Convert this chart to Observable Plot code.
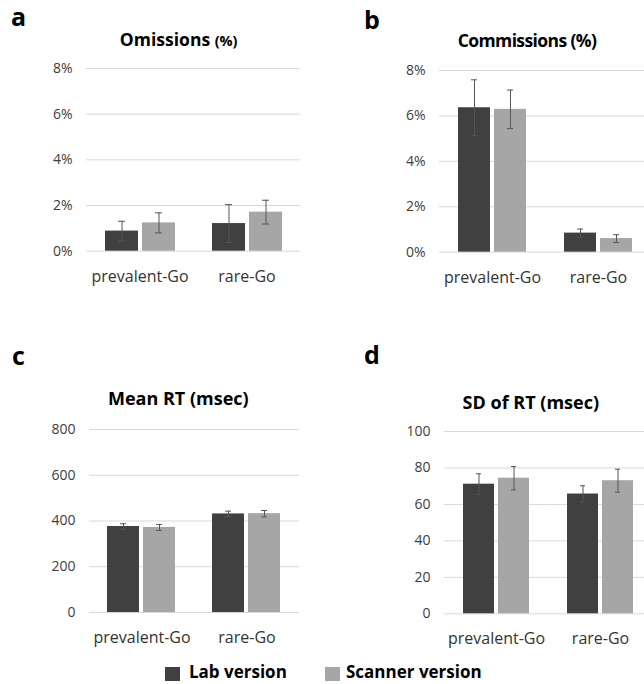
<!DOCTYPE html>
<html>
<head>
<meta charset="utf-8">
<script src="https://cdn.jsdelivr.net/npm/d3@7"></script>
<script src="https://cdn.jsdelivr.net/npm/@observablehq/plot@0.6"></script>
<style>
  html, body { margin: 0; padding: 0; background: #fff; }
  #root { position: relative; width: 644px; height: 684px; overflow: hidden; font-family: "Open Sans", sans-serif; }
  .panel { position: absolute; }
  .panel svg { max-width: none !important; }
  .letter { position: absolute; font-weight: bold; font-size: 25px; color: #000; line-height: 1; }
  .title { position: absolute; font-weight: bold; font-size: 17.5px; color: #000; transform: translate(-50%, -50%); white-space: nowrap; }
  .legend { position: absolute; top: 662px; left: 0; width: 644px; height: 21px; }
  .sw { position: absolute; width: 15px; height: 14px; top: 5px; }
  .lt { position: absolute; font-weight: bold; font-size: 17px; line-height: 20px; top: 0; white-space: nowrap; color: #000; }
</style>
</head>
<body>
<div id="root"></div>
<script>
const categories = ["prevalent-Go", "rare-Go"];
const versions = ["Lab version", "Scanner version"];

const omissionsLab = [0.88, 1.21];
const omissionsLabErr = [0.43, 0.83];
const omissionsScanner = [1.24, 1.71];
const omissionsScannerErr = [0.44, 0.52];

const commissionsLab = [6.36, 0.84];
const commissionsLabErr = [1.23, 0.18];
const commissionsScanner = [6.29, 0.60];
const commissionsScannerErr = [0.85, 0.17];

const meanRTLab = [376, 431];
const meanRTLabErr = [12, 12];
const meanRTScanner = [372, 432];
const meanRTScannerErr = [13, 14];

const sdRTLab = [71.1, 65.7];
const sdRTLabErr = [5.7, 4.5];
const sdRTScanner = [74.4, 73.0];
const sdRTScannerErr = [6.4, 6.3];

const pctTicks = [0, 2, 4, 6, 8];
const rtTicks = [0, 200, 400, 600, 800];
const sdTicks = [0, 20, 40, 60, 80, 100];

const colors = ["#404040", "#a6a6a6"];

const root = document.getElementById("root");

function panel(cfg) {
  const rows = [];
  categories.forEach((c, i) => {
    rows.push({cat: c, ver: versions[0], v: cfg.lab[i], e: cfg.labErr[i]});
    rows.push({cat: c, ver: versions[1], v: cfg.scan[i], e: cfg.scanErr[i]});
  });
  const mL = 60, mR = 10, mT = 12, mB = 40;
  const w = cfg.x1 - cfg.x0, h = cfg.y1 - cfg.y0;
  const chart = Plot.plot({
    width: w + mL + mR,
    height: h + mT + mB,
    marginLeft: mL, marginRight: mR, marginTop: mT, marginBottom: mB,
    style: {fontFamily: "Open Sans, sans-serif", fontSize: "14px", color: "#404040", background: "transparent", maxWidth: "none"},
    facet: {data: rows, x: "cat"},
    fx: {domain: categories, padding: 0, axis: "bottom", tickSize: 0, tickPadding: 19, label: null},
    x: {domain: versions, paddingInner: 0.11, paddingOuter: 0.5, axis: null},
    y: {domain: [0, cfg.ticks[cfg.ticks.length - 1]], ticks: cfg.ticks, tickFormat: cfg.fmt, tickSize: 0, tickPadding: 14, label: null},
    color: {domain: versions, range: colors},
    marks: [
      Plot.ruleY(cfg.ticks, {stroke: "#d9d9d9", strokeWidth: 1}),
      Plot.barY(rows, {x: "ver", y: "v", fill: "ver"}),
      Plot.ruleX(rows, {x: "ver", y1: d => d.v - d.e, y2: d => d.v + d.e, stroke: "#555555", strokeWidth: 1}),
      Plot.tickY(rows, {x: "ver", y: d => d.v + d.e, insetLeft: 13, insetRight: 13, stroke: "#555555", strokeWidth: 1}),
      Plot.tickY(rows, {x: "ver", y: d => d.v - d.e, insetLeft: 13, insetRight: 13, stroke: "#555555", strokeWidth: 1})
    ]
  });
  // enlarge category (facet) labels
  chart.querySelectorAll("g").forEach(g => {
    const lab = g.getAttribute("aria-label") || "";
    if (lab.startsWith("fx-axis")) {
      g.querySelectorAll("text").forEach(t => { t.style.fontSize = "16px"; t.style.fill = "#333333"; });
    }
  });
  const div = document.createElement("div");
  div.className = "panel";
  div.style.left = (cfg.x0 - mL) + "px";
  div.style.top = (cfg.y0 - mT) + "px";
  div.style.width = (w + mL + mR) + "px";
  div.appendChild(chart);
  root.appendChild(div);
}

const pct = d => d + "%";

panel({lab: omissionsLab, labErr: omissionsLabErr, scan: omissionsScanner, scanErr: omissionsScannerErr,
       ticks: pctTicks, fmt: pct, x0: 85.5, x1: 299.5, y0: 68.3, y1: 251});
panel({lab: commissionsLab, labErr: commissionsLabErr, scan: commissionsScanner, scanErr: commissionsScannerErr,
       ticks: pctTicks, fmt: pct, x0: 437.7, x1: 651, y0: 70, y1: 251.7});
panel({lab: meanRTLab, labErr: meanRTLabErr, scan: meanRTScanner, scanErr: meanRTScannerErr,
       ticks: rtTicks, fmt: d => String(d), x0: 89.3, x1: 299.3, y0: 429.3, y1: 612.3});
panel({lab: sdRTLab, labErr: sdRTLabErr, scan: sdRTScanner, scanErr: sdRTScannerErr,
       ticks: sdTicks, fmt: d => String(d), x0: 442.5, x1: 652, y0: 430.7, y1: 613});

function addText(cls, html, x, y, extra) {
  const el = document.createElement("div");
  el.className = cls;
  el.innerHTML = html;
  el.style.left = x + "px";
  el.style.top = y + "px";
  if (extra) Object.assign(el.style, extra);
  root.appendChild(el);
}
addText("letter", "a", 11, 4);
addText("letter", "b", 364, 7);
addText("letter", "c", 12, 343);
addText("letter", "d", 364, 342);

addText("title", 'Omissions <span style="font-size:14.5px">(%)</span>', 178.7, 39);
addText("title", "Commissions (%)", 527, 40, {letterSpacing: "-0.6px"});
addText("title", "Mean RT (msec)", 178.3, 398, {fontSize: "18px"});
addText("title", "SD of RT (msec)", 530.8, 401.7, {fontSize: "18px"});

const legend = document.createElement("div");
legend.className = "legend";
const legendX = [165, 325];
const textX = [189, 346];
versions.forEach((v, i) => {
  const sw = document.createElement("div");
  sw.className = "sw";
  sw.style.left = legendX[i] + "px";
  sw.style.background = colors[i];
  legend.appendChild(sw);
  const t = document.createElement("div");
  t.className = "lt";
  t.style.left = textX[i] + "px";
  t.textContent = v;
  legend.appendChild(t);
});
root.appendChild(legend);
</script>
</body>
</html>
